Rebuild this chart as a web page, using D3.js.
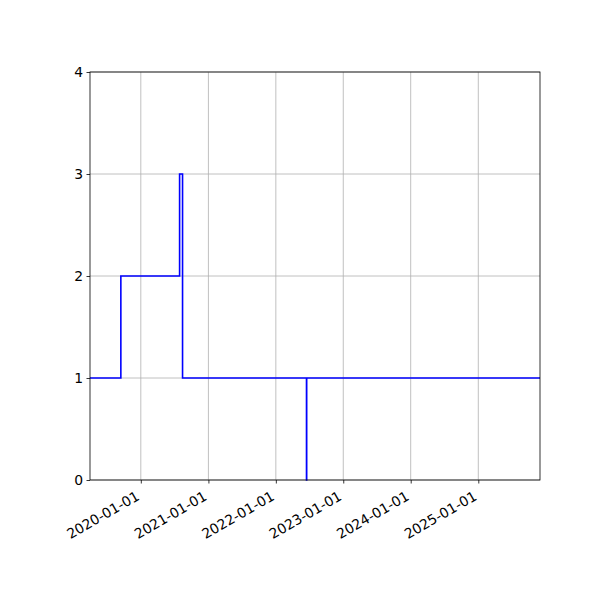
<!DOCTYPE html>
<html>
<head>
<meta charset="utf-8">
<title>Step chart</title>
<style>
  body { margin: 0; background: #fff; }
  text { font-family: "DejaVu Sans", sans-serif; font-size: 13.9px; fill: #000; }
</style>
</head>
<body>
<script src="https://cdn.jsdelivr.net/npm/d3@7"></script>
<script>
  // step values, held from each date until the next one
  var dates  = ["2019-04-01", "2019-09-15", "2020-07-29", "2020-08-14", "2022-06-16", "2022-06-17", "2025-12-01"];
  var values = [1, 2, 3, 1, 0, 1, 1];
  var xTicks = ["2020-01-01", "2021-01-01", "2022-01-01", "2023-01-01", "2024-01-01", "2025-01-01"];
  var yTicks = [0, 1, 2, 3, 4];

  var w = 600, h = 600,
      m = { top: 72, right: 60, bottom: 120, left: 90 };
  var iw = w - m.left - m.right,
      ih = h - m.top - m.bottom;

  var parse = d3.timeParse("%Y-%m-%d");
  var data = dates.map(function(d, i) { return { date: parse(d), value: values[i] }; });

  var x = d3.scaleTime()
      .domain(d3.extent(data, function(d) { return d.date; }))
      .range([0, iw]);
  var y = d3.scaleLinear()
      .domain([0, 4])
      .range([ih, 0]);

  var svg = d3.select("body").append("svg")
      .attr("width", w)
      .attr("height", h);
  var g = svg.append("g")
      .attr("transform", "translate(" + m.left + "," + m.top + ")");

  // grid
  g.append("g").selectAll("line")
    .data(xTicks.map(parse))
    .enter().append("line")
      .attr("x1", function(d) { return x(d); })
      .attr("x2", function(d) { return x(d); })
      .attr("y1", 0).attr("y2", ih)
      .attr("stroke", "#b0b0b0")
      .attr("stroke-width", 0.8);
  g.append("g").selectAll("line")
    .data(yTicks)
    .enter().append("line")
      .attr("x1", 0).attr("x2", iw)
      .attr("y1", function(d) { return y(d); })
      .attr("y2", function(d) { return y(d); })
      .attr("stroke", "#b0b0b0")
      .attr("stroke-width", 0.8);

  // the step line
  var line = d3.line()
      .x(function(d) { return x(d.date); })
      .y(function(d) { return y(d.value); })
      .curve(d3.curveStepAfter);
  g.append("path")
      .datum(data)
      .attr("d", line)
      .attr("fill", "none")
      .attr("stroke", "#0000ff")
      .attr("stroke-width", 1.6);

  // axes
  var xAxis = g.append("g")
      .attr("transform", "translate(0," + ih + ")")
      .call(d3.axisBottom(x)
        .tickValues(xTicks.map(parse))
        .tickFormat(d3.timeFormat("%Y-%m-%d"))
        .tickSizeInner(3.5).tickSizeOuter(0));
  xAxis.selectAll("text")
      .attr("text-anchor", "end")
      .attr("dy", null)
      .attr("y", 0)
      .attr("transform", "translate(-1,19) rotate(-30)");

  var yAxis = g.append("g")
      .call(d3.axisLeft(y)
        .tickValues(yTicks)
        .tickFormat(d3.format("d"))
        .tickSizeInner(3.5).tickSizeOuter(0)
        .tickPadding(3.5));

  g.selectAll(".domain").remove();
  g.selectAll(".tick line").attr("stroke", "#000").attr("stroke-width", 0.8);
  g.selectAll(".tick text").style("font-size", "13.9px").style("font-family", "DejaVu Sans");

  // frame
  g.append("rect")
      .attr("width", iw).attr("height", ih)
      .attr("fill", "none")
      .attr("stroke", "#000")
      .attr("stroke-width", 0.8);
</script>
</body>
</html>
